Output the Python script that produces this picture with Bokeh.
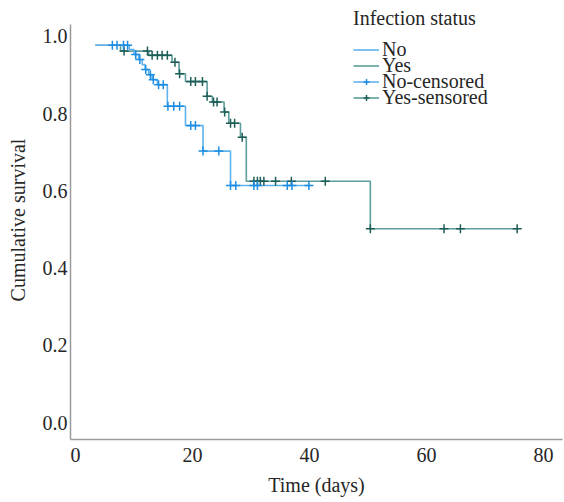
from bokeh.plotting import figure
from bokeh.models import Range1d, Legend, LegendItem, FixedTicker, PrintfTickFormatter
from bokeh.embed import file_html
from bokeh.resources import INLINE

# ---- data ----
no_time = [3.4, 9.2, 10.0, 10.8, 11.4, 11.9, 12.5, 13.1, 14.0, 15.7, 18.8, 21.8, 26.5, 40.2]
no_surv = [0.977, 0.966, 0.953, 0.940, 0.927, 0.914, 0.901, 0.888, 0.875, 0.819, 0.769, 0.703, 0.614, 0.614]

yes_time = [3.4, 7.7, 12.5, 16.5, 17.7, 18.8, 22.5, 23.4, 25.4, 26.2, 28.2, 29.2, 50.4, 75.7]
yes_surv = [0.977, 0.962, 0.951, 0.933, 0.903, 0.883, 0.845, 0.830, 0.804, 0.775, 0.739, 0.625, 0.502, 0.502]

no_cens_time = [6.3, 7.1, 8.2, 8.9, 10.3, 11.0, 12.0, 12.8, 13.3, 14.2, 15.0, 15.8, 16.8, 17.8,
                19.7, 20.5, 21.8, 24.5, 26.5, 27.4, 30.5, 31.1, 36.2, 37.0, 39.9]
no_cens_surv = [0.977, 0.977, 0.977, 0.977, 0.953, 0.940, 0.914, 0.901, 0.888, 0.875, 0.875, 0.819, 0.819, 0.819,
                0.769, 0.769, 0.703, 0.703, 0.614, 0.614, 0.614, 0.614, 0.614, 0.614, 0.614]

yes_cens_time = [8.3, 12.3, 13.1, 14.0, 14.8, 15.7, 17.0, 17.8, 19.7, 20.5, 21.7, 22.5, 23.6, 24.2,
                 25.5, 26.5, 27.2, 28.5, 30.5, 31.1, 31.6, 32.2, 34.2, 36.9, 42.7, 50.4, 63.0, 65.8, 75.5]
yes_cens_surv = [0.962, 0.962, 0.951, 0.951, 0.951, 0.951, 0.933, 0.903, 0.883, 0.883, 0.883, 0.845, 0.830, 0.830,
                 0.804, 0.775, 0.775, 0.739, 0.625, 0.625, 0.625, 0.625, 0.625, 0.625, 0.625, 0.502, 0.502, 0.502, 0.502]

x_ticks = [0, 20, 40, 60, 80]
y_ticks = [0.0, 0.2, 0.4, 0.6, 0.8, 1.0]
legend_labels = ["No", "Yes", "No-censored", "Yes-sensored"]
legend_title = "Infection status"

# ---- styling ----
FONT = "Liberation Serif"
TXT = "#262626"
BLUE_LINE = "#5fb2ec"
BLUE_MARK = "#1c8de2"
TEAL_LINE = "#5c9e9b"
TEAL_MARK = "#1d5d56"

Y_LO, Y_AXIS_HI, Y_HI = -0.044, 1.031, 1.093

p = figure(width=564, height=502, output_backend="svg", toolbar_location=None,
           x_range=Range1d(-0.855, 83.25), y_range=Range1d(Y_LO, Y_HI),
           min_border_left=70, min_border_right=2, min_border_top=0, min_border_bottom=63)
p.outline_line_color = None
p.grid.visible = False
p.background_fill_color = "white"

for ax in (p.xaxis[0], p.yaxis[0]):
    ax.axis_line_color = "#9a9a9a"
    ax.axis_line_width = 1.5
    ax.major_tick_line_color = None
    ax.minor_tick_line_color = None
    ax.major_tick_out = 0
    ax.major_tick_in = 0
    ax.major_label_text_font = FONT
    ax.major_label_text_font_size = "20px"
    ax.major_label_text_color = TXT
    ax.axis_label_text_font = FONT
    ax.axis_label_text_font_size = "20px"
    ax.axis_label_text_font_style = "normal"
    ax.axis_label_text_color = TXT

p.xaxis.ticker = FixedTicker(ticks=x_ticks)
p.yaxis.ticker = FixedTicker(ticks=y_ticks)
p.yaxis.bounds = (Y_LO, Y_AXIS_HI)
p.yaxis.formatter = PrintfTickFormatter(format="%.1f")
p.xaxis.axis_label = "Time (days)"
p.yaxis.axis_label = "Cumulative survival"
p.xaxis.major_label_standoff = 8
p.yaxis.major_label_standoff = 3
p.xaxis.axis_label_standoff = 9
p.yaxis.axis_label_standoff = 11

r_yes = p.step(yes_time, yes_surv, mode="after", line_color=TEAL_LINE, line_width=1.6)
r_no = p.step(no_time, no_surv, mode="after", line_color=BLUE_LINE, line_width=1.6)
r_yes_c = p.scatter(yes_cens_time, yes_cens_surv, marker="cross", size=9, line_color=TEAL_MARK, line_width=1.5)
r_no_c = p.scatter(no_cens_time, no_cens_surv, marker="cross", size=9, line_color=BLUE_MARK, line_width=1.5)

# one single-entry legend per row so the rows can sit as tightly as in the reference
item_renderers = [[r_no], [r_yes], [r_no, r_no_c], [r_yes, r_yes_c]]
row_offsets = [378, 362, 346, 330]
for i, (lab, rends, vy) in enumerate(zip(legend_labels, item_renderers, row_offsets)):
    lg = Legend(items=[LegendItem(label=lab, renderers=rends)], location=(283, vy))
    if i == 0:
        lg.title = legend_title
        lg.title_text_font = FONT
        lg.title_text_font_size = "20px"
        lg.title_text_font_style = "normal"
        lg.title_text_color = TXT
        lg.title_standoff = 8
    lg.label_text_font = FONT
    lg.label_text_font_size = "20px"
    lg.label_text_color = TXT
    lg.label_height = 15
    lg.glyph_height = 15
    lg.glyph_width = 26
    lg.label_standoff = 3
    lg.spacing = 0
    lg.padding = 0
    lg.margin = 0
    lg.border_line_color = None
    lg.background_fill_alpha = 0
    p.add_layout(lg, "center")

open("out.html", "w").write(file_html(p, INLINE))
